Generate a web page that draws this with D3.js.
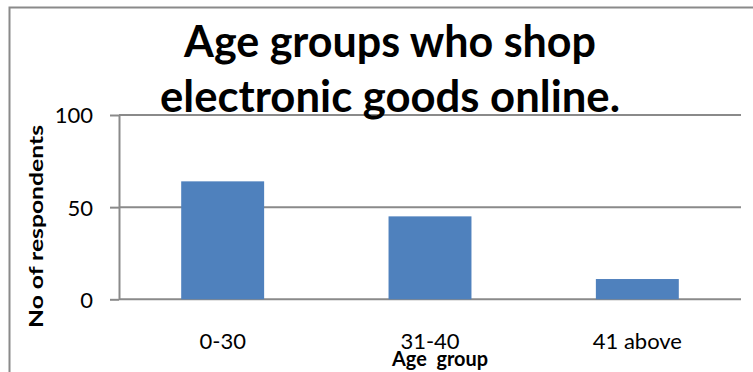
<!DOCTYPE html>
<html>
<head>
<meta charset="utf-8">
<script src="https://cdn.jsdelivr.net/npm/d3@7"></script>
<style>
  html, body { margin: 0; padding: 0; background: #fff; }
  svg { display: block; }
  text { font-family: Lato, "Open Sans", sans-serif; fill: #000; }
</style>
</head>
<body>
<svg id="chart" width="753" height="372"></svg>
<script>
const categories = ["0-30", "31-40", "41 above"];
const values = [64, 45, 11];
const yTicks = [0, 50, 100];
const titleLines = ["Age groups who shop", "electronic goods online."];
const xTitle = "Age  group";
const yTitle = "No of respondents";

const W = 753, H = 372;
const plot = { left: 119, right: 741, top: 115, bottom: 299.3 };
const svg = d3.select("#chart");

// outer chart border (right/bottom edges fall outside the picture)
svg.append("rect")
  .attr("x", 9.5).attr("y", 7.5)
  .attr("width", 800).attr("height", 400)
  .attr("fill", "none").attr("stroke", "#8a8a8a").attr("stroke-width", 2);

const x = d3.scaleBand().domain(categories)
  .range([plot.left, plot.right]).paddingInner(0.6).paddingOuter(0.3);
const y = d3.scaleLinear().domain([0, 100]).range([plot.bottom, plot.top]);

// gridlines
svg.append("g").selectAll("line").data(yTicks).join("line")
  .attr("x1", plot.left).attr("x2", plot.right)
  .attr("y1", d => y(d)).attr("y2", d => y(d))
  .attr("stroke", "#8a8a8a").attr("stroke-width", 2);

// bars
svg.append("g").selectAll("rect").data(values).join("rect")
  .attr("x", (d, i) => x(categories[i]))
  .attr("width", x.bandwidth())
  .attr("y", d => y(d))
  .attr("height", d => y(0) - y(d))
  .attr("fill", "#4f81bd");

// y axis
const yAxis = svg.append("g").attr("transform", `translate(${plot.left},0)`)
  .call(d3.axisLeft(y).tickValues(yTicks).tickSizeInner(9).tickSizeOuter(0).tickPadding(17));
yAxis.select(".domain").attr("stroke", "#8a8a8a").attr("stroke-width", 2);
yAxis.selectAll(".tick line").attr("stroke", "#8a8a8a").attr("stroke-width", 2);
yAxis.selectAll(".tick text")
  .style("font-family", "Lato").style("font-size", "22px").attr("fill", "#000")
  .attr("dy", "0.36em");

// x axis
const xAxis = svg.append("g").attr("transform", `translate(0,${plot.bottom})`)
  .call(d3.axisBottom(x).tickSize(0).tickPadding(34));
xAxis.select(".domain").remove();
xAxis.selectAll(".tick text")
  .style("font-family", "Lato").style("font-size", "22px").attr("fill", "#000");

// title
svg.append("g").selectAll("text").data(titleLines).join("text")
  .attr("x", 390)
  .attr("y", (d, i) => i === 0 ? 56.5 : 111.7)
  .attr("text-anchor", "middle")
  .attr("textLength", (d, i) => i === 0 ? 412 : 460)
  .attr("lengthAdjust", "spacingAndGlyphs")
  .style("font-size", "43px").style("font-weight", "bold")
  .text(d => d);

// x title
svg.append("text")
  .attr("x", 440).attr("y", 366)
  .attr("text-anchor", "middle")
  .attr("textLength", 96).attr("lengthAdjust", "spacingAndGlyphs")
  .style("font-size", "20px").style("font-weight", "bold")
  .style("white-space", "pre")
  .text(xTitle);

// y title
svg.append("text")
  .attr("transform", "translate(43,226.5) rotate(-90)")
  .attr("text-anchor", "middle")
  .attr("textLength", 203).attr("lengthAdjust", "spacingAndGlyphs")
  .style("font-size", "19px").style("font-weight", "bold")
  .text(yTitle);
</script>
</body>
</html>
